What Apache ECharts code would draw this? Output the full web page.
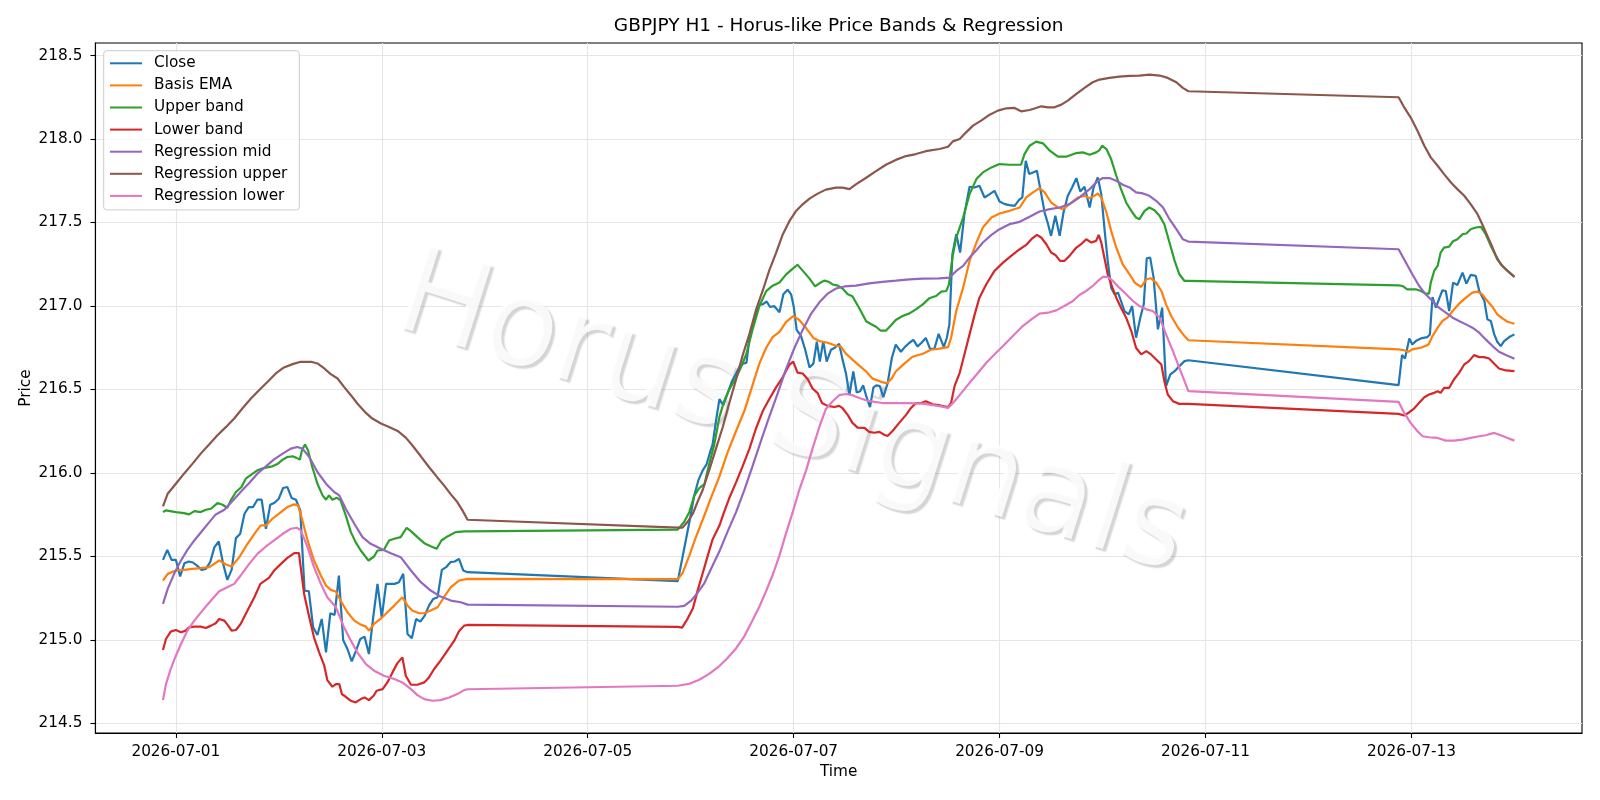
<!DOCTYPE html>
<html><head><meta charset="utf-8">
<script src="https://cdn.jsdelivr.net/npm/echarts@6/dist/echarts.min.js"></script>
<style>html,body{margin:0;padding:0;background:#fff}#chart{width:1600px;height:800px}</style>
</head><body><div id="chart"></div>
<script>
// x values are hours since 2026-07-01 00:00
const xTickHours = [0, 48, 96, 144, 192, 240, 288];
const xTickLabels = ['2026-07-01', '2026-07-03', '2026-07-05', '2026-07-07', '2026-07-09', '2026-07-11', '2026-07-13'];
const yTicks = [214.5, 215.0, 215.5, 216.0, 216.5, 217.0, 217.5, 218.0, 218.5];

const closeData = [
[-3,215.48],[-2,215.54],[-1,215.48],[0,215.48],[1,215.38],[2,215.46],[3,215.47],[4,215.464],[5,215.444],[6,215.42],[7,215.426],[8,215.466],[9,215.556],[10,215.59],[11,215.46],[12,215.36],[13,215.42],[14,215.61],[15,215.636],[16,215.756],[17,215.796],[18,215.796],[19,215.84],[20,215.84],[21,215.666],[22,215.81],[23,215.822],[24,215.846],[25,215.91],[26,215.916],[27,215.85],[28,215.84],[29,215.776],[30,215.296],[31,215.292],[32,215.076],[33,215.03],[34,215.126],[35,214.926],[36,215.16],[37,215.15],[38,215.386],[39,215.0],[40,214.946],[41,214.872],[42,214.936],[43,215.006],[44,215.02],[45,214.916],[46,215.136],[47,215.336],[48,215.136],[49,215.336],[50,215.336],[51,215.336],[52,215.346],[53,215.396],[54,215.036],[55,215.01],[56,215.126],[57,215.11],[58,215.146],[59,215.206],[60,215.246],[61,215.256],[62,215.42],[63,215.436],[64,215.466],[65,215.47],[66,215.486],[67,215.416],[68,215.406],
[117,215.353],[118,215.483],[118.9,215.602],[119.8,215.72],[120.8,215.862],[121.8,215.957],[122.8,216.016],[123.7,216.052],[124.5,216.123],[125.1,216.17],[125.9,216.312],[126.7,216.442],[127.6,216.406],[128.6,216.477],[129.6,216.549],[130.6,216.596],[131.5,216.643],[132.3,216.655],[133,216.66],[133.7,216.809],[134.6,216.892],[135.4,216.975],[136,217.01],[136.8,217.01],[137.7,217.027],[138.5,216.994],[139.5,216.999],[140.7,216.963],[141.6,217.07],[142.6,217.098],[143.4,217.07],[144,216.999],[144.7,216.857],[145.7,216.821],[146.7,216.738],[147.7,216.632],[148.6,216.655],[149.4,216.786],[150.1,216.667],[150.9,216.79],[151.7,216.667],[152.7,216.738],[153.6,216.75],[154.6,216.774],[155.4,216.679],[156.2,216.596],[157,216.466],[157.9,216.608],[158.7,216.482],[159.5,216.49],[160.2,216.525],[161,216.454],[161.8,216.395],[162.6,216.513],[163.3,216.525],[164.1,216.52],[164.9,216.454],[165.9,216.537],[166.9,216.69],[167.8,216.769],[169,216.726],[170,216.757],[171,216.78],[171.9,216.797],[172.9,216.757],[173.8,216.78],[174.8,216.809],[175.8,216.743],[176.8,216.743],[177.8,216.833],
[178.2,216.83],[179,216.754],[179.7,216.81],[180.3,216.89],[181,217.31],[181.9,217.43],[182.8,217.32],[183.8,217.55],[185,217.714],[186.2,217.71],[187.3,217.72],[188.5,217.65],[189.7,217.67],[190.8,217.69],[192,217.626],[193.2,217.61],[194.3,217.604],[195.5,217.6],[196.5,217.634],[197.3,217.65],[198.1,217.87],[198.9,217.79],[199.8,217.8],[200.7,217.81],[201.5,217.7],[202.5,217.56],[203.3,217.49],[204,217.42],[205,217.54],[206,217.42],[206.9,217.56],[207.9,217.66],[208.9,217.71],[209.9,217.766],[210.8,217.686],[211.8,217.714],[213,217.59],[213.9,217.71],[214.9,217.77],[215.7,217.67],[216.5,217.45],[217.2,217.27],[218,217.11],[218.8,217.07],[219.6,217.08],[220.3,217.03],[221.1,216.97],[222.1,216.95],[222.9,217.0],[223.8,216.81],[224.8,216.93],[225.6,217.01],[226.3,217.286],[227.1,217.29],[227.9,217.17],[228.9,216.86],[229.9,216.99],[230.8,216.52],[231.8,216.59],[232.8,216.61],[233.9,216.64],[235.1,216.67],[236,216.675],
[285,216.526],[285.8,216.706],[286.5,216.686],[287.5,216.806],[288.2,216.77],[289.2,216.794],[290.2,216.806],[291.7,216.814],[292.3,216.83],[292.9,217.054],[293.7,216.99],[294.4,217.04],[295.2,217.094],[296,217.09],[296.8,216.97],[297.7,217.14],[298.7,217.126],[299.9,217.2],[300.8,217.134],[301.8,217.186],[303,217.18],[303.8,217.09],[305,217.03],[305.7,216.92],[306.5,216.91],[307.3,216.83],[308,216.786],[308.8,216.76],[309.6,216.79],[310.8,216.814],[312,216.83]
];

const emaData = [
[-3,215.356],[-1.9,215.396],[0,215.416],[1.9,215.42],[3.9,215.426],[5.8,215.43],[7.8,215.436],[10.1,215.476],[11.7,215.452],[13,215.44],[14.8,215.496],[16.7,215.576],[18.6,215.646],[19.8,215.686],[21,215.686],[22.5,215.726],[24.5,215.766],[26,215.796],[27.6,215.812],[28.5,215.806],[29.5,215.716],[30.7,215.596],[32.2,215.476],[33.8,215.386],[35,215.326],[36.1,215.3],[37.3,215.29],[38.4,215.236],[40,215.166],[41.6,215.116],[43.1,215.092],[44.3,215.08],[45,215.056],[46.2,215.096],[47.7,215.126],[49.3,215.166],[50.9,215.206],[52.8,215.256],[54,215.206],[55.1,215.176],[56.7,215.16],[57.9,215.16],[59.4,215.176],[61,215.196],[62.5,215.256],[64.1,215.316],[66,215.356],[68,215.366],
[117,215.365],[118.1,215.4],[119.7,215.507],[121.2,215.614],[122.8,215.72],[124.7,215.85],[126.7,215.98],[128.6,216.123],[130.6,216.253],[132.5,216.371],[134.4,216.525],[136,216.655],[137.6,216.75],[139.1,216.814],[140.7,216.845],[142.2,216.904],[143.9,216.94],[145.3,216.916],[146.9,216.868],[148.6,216.809],[150,216.79],[151.9,216.78],[153.9,216.762],[155,216.757],[156.2,216.714],[157.7,216.679],[159.3,216.643],[160.9,216.608],[162.4,216.565],[164.1,216.549],[165.7,216.537],[166.7,216.561],[167.8,216.608],[169.8,216.655],[171.7,216.696],[174.1,216.714],[176,216.738],[178,216.745],[180,216.754],[180.7,216.81],[181.9,216.97],[183.5,217.11],[185,217.27],[186.6,217.38],[188.1,217.47],[190.1,217.53],[192,217.554],[194.3,217.57],[196.7,217.59],[198.2,217.65],[199.8,217.68],[201.3,217.706],[202.5,217.68],[204,217.62],[205.6,217.59],[206.8,217.58],[208.3,217.61],[210.3,217.65],[211.8,217.66],[213,217.646],[214.1,217.66],[214.9,217.674],[215.7,217.65],[216.9,217.56],[218,217.45],[219.2,217.35],[220.7,217.25],[222.3,217.19],[223.5,217.14],[225,217.114],[226.2,217.16],[227.3,217.166],[228.5,217.14],[229.7,217.09],[230.8,217.01],[232,216.94],[233.6,216.87],[235.1,216.82],[236,216.795],
[285,216.74],[286.3,216.735],[287.3,216.726],[288.2,216.74],[290.2,216.75],[292,216.77],[292.9,216.82],[294.1,216.87],[295.2,216.91],[296.4,216.93],[297.6,216.97],[299.1,217.014],[300.7,217.05],[302.2,217.08],[303.4,217.086],[304.5,217.07],[305.7,217.03],[306.9,216.994],[308,216.95],[309.2,216.926],[310.4,216.906],[312,216.894]
];

const upperBand = [
[-3,215.766],[-2.3,215.776],[0,215.766],[1.9,215.76],[3.1,215.752],[4.3,215.772],[5.8,215.766],[7,215.78],[8.2,215.786],[9.7,215.82],[10.9,215.81],[12,215.792],[12.8,215.836],[14,215.886],[15.3,215.916],[16.3,215.966],[17.9,215.996],[19,216.016],[20,216.026],[21,216.032],[22.5,216.04],[23.8,216.056],[24.9,216.08],[26,216.096],[27.2,216.1],[28,216.092],[28.9,216.08],[29.4,216.136],[30.1,216.17],[30.8,216.136],[31.8,216.036],[33,215.936],[34.2,215.866],[35,215.84],[35.7,215.866],[36.5,215.84],[37.5,215.852],[38.4,215.836],[39.6,215.746],[40.8,215.646],[41.9,215.586],[43.1,215.536],[44.9,215.476],[46.2,215.5],[47,215.536],[48.5,215.54],[49.7,215.596],[50.9,215.606],[52.4,215.616],[53.8,215.672],[54.8,215.652],[56.3,215.616],[57.9,215.58],[59.4,215.562],[60.8,215.546],[61.9,215.596],[63.3,215.62],[65.2,215.646],[67.2,215.65],[68,215.65],
[117,215.661],[118.5,215.708],[119.7,215.767],[120.8,215.862],[122,215.91],[123.2,215.933],[124.3,216.052],[125.5,216.17],[126.7,216.336],[127.8,216.43],[129,216.501],[130.6,216.572],[131.7,216.632],[133,216.714],[134.4,216.857],[136,216.999],[137.6,217.089],[139.1,217.122],[140.7,217.141],[142.2,217.188],[143.8,217.224],[144.9,217.247],[146.1,217.212],[147.7,217.164],[149,217.117],[150,217.136],[151.1,217.152],[152.2,217.145],[153.1,217.129],[154.3,217.122],[155.4,217.105],[156.6,217.07],[157.7,217.058],[159.3,216.987],[160.9,216.909],[162,216.892],[163.2,216.876],[164.3,216.852],[165.5,216.852],[166.7,216.885],[167.8,216.916],[169.4,216.94],[171,216.956],[172.5,216.98],[174.1,217.01],[175.6,217.046],[177.2,217.06],[178.4,217.086],[179.6,217.09],[180.2,217.13],[181,217.29],[181.9,217.41],[183.5,217.53],[185,217.67],[186.6,217.76],[188.1,217.8],[190.1,217.83],[192,217.85],[194.3,217.846],[197,217.846],[197.8,217.91],[199,217.96],[200.5,217.984],[202.1,217.974],[203.7,217.93],[205.6,217.894],[207.5,217.894],[209.9,217.916],[211.4,217.92],[213,217.906],[214.5,217.92],[215.3,217.934],[215.9,217.96],[216.9,217.94],[218,217.88],[219.2,217.78],[220.3,217.7],[221.5,217.62],[222.7,217.57],[223.8,217.53],[224.6,217.52],[225.8,217.57],[226.9,217.59],[228.1,217.574],[229.3,217.54],[230.4,217.49],[231.6,217.38],[232.8,217.27],[233.9,217.19],[235.1,217.15],[236,217.15],
[285,217.124],[285.9,217.12],[287,217.1],[289,217.1],[290.2,217.09],[291.3,217.074],[292.1,217.074],[292.5,217.14],[293.3,217.21],[294.1,217.24],[294.8,217.32],[295.6,217.35],[296.8,217.356],[297.6,217.386],[298.7,217.4],[299.9,217.43],[300.8,217.434],[301.8,217.46],[303,217.47],[304.2,217.474],[305.3,217.43],[306.5,217.36],[307.7,217.3],[308.8,217.25],[310,217.22],[311.1,217.194],[312,217.174]
];

const lowerBand = [
[-3,214.94],[-2.3,215.006],[-1.2,215.05],[0,215.06],[1.2,215.046],[2.3,215.056],[3.1,215.076],[4.3,215.08],[5.8,215.08],[7,215.072],[8.2,215.086],[9.3,215.1],[10.1,215.126],[11.3,215.116],[12.2,215.086],[13,215.056],[14,215.06],[15.1,215.096],[16.7,215.176],[18.3,215.256],[19.7,215.336],[20.6,215.352],[21.7,215.372],[22.9,215.416],[24.5,215.456],[26,215.492],[27.6,215.52],[28.7,215.52],[29.1,215.436],[29.9,215.276],[31.1,215.136],[32.2,215.016],[33.4,214.926],[34.6,214.846],[35.3,214.76],[36.5,214.72],[37.3,214.736],[38.1,214.736],[38.7,214.676],[39.6,214.66],[40.8,214.636],[41.9,214.626],[43.1,214.646],[44,214.656],[45,214.64],[46.1,214.666],[46.8,214.696],[48.2,214.706],[49.3,214.746],[50.5,214.806],[51.6,214.86],[52.8,214.896],[53.6,214.786],[54.8,214.732],[56.3,214.732],[57.9,214.746],[59,214.776],[60.2,214.826],[61.7,214.876],[63.3,214.936],[64.9,214.996],[66,215.052],[67.2,215.086],[68,215.09],
[117,215.078],[118,215.074],[119.3,215.128],[120.5,215.188],[121.6,215.294],[122.8,215.4],[124,215.507],[125.1,215.602],[126.7,215.685],[127.8,215.767],[129,215.85],[130.6,215.945],[132.1,216.04],[133.7,216.146],[135.2,216.265],[136.8,216.371],[138.3,216.442],[139.9,216.513],[141.4,216.572],[143,216.648],[143.9,216.667],[144.9,216.601],[146.1,216.596],[147.3,216.561],[148.4,216.506],[149.6,216.478],[150.6,216.419],[151.9,216.402],[153.5,216.395],[154.6,216.402],[155.4,216.388],[156.6,216.348],[157.7,216.3],[158.9,216.272],[160.5,216.27],[161.6,216.246],[162.8,216.241],[164,216.246],[165.1,216.229],[165.9,216.222],[167.1,216.253],[168.6,216.3],[170.2,216.348],[171.3,216.388],[172.5,216.419],[173.7,216.419],[174.8,216.43],[176.4,216.411],[177.9,216.407],[178.8,216.4],[180,216.394],[180.7,216.42],[181.5,216.52],[182.7,216.6],[183.8,216.71],[185,216.83],[186.2,216.95],[187.3,217.05],[188.9,217.13],[190.8,217.21],[192.8,217.26],[194.7,217.3],[196.7,217.34],[198.2,217.366],[199.4,217.4],[200.7,217.426],[201.7,217.41],[202.9,217.37],[204,217.32],[205,217.306],[206.1,217.27],[207.1,217.27],[208.3,217.3],[209.9,217.35],[211,217.37],[212.2,217.4],[213.4,217.38],[214.5,217.39],[215.1,217.426],[215.7,217.38],[216.5,217.28],[217.2,217.19],[218.3,217.11],[219.2,217.05],[220.3,216.99],[221.5,216.93],[222.7,216.85],[223.8,216.75],[225,216.71],[226.2,216.73],[227.3,216.71],[228.5,216.68],[229.7,216.65],[230.4,216.55],[231.2,216.47],[232.4,216.43],[233.9,216.414],[236,216.414],
[285,216.354],[286.3,216.344],[287.5,216.364],[288.6,216.386],[289.8,216.42],[291,216.454],[292.1,216.47],[293.3,216.48],[294.1,216.49],[294.8,216.48],[295.6,216.51],[296.8,216.51],[297.9,216.56],[299.1,216.6],[300.3,216.65],[301.4,216.67],[302.6,216.706],[303.8,216.694],[304.9,216.694],[306.1,216.686],[307.3,216.654],[308.4,216.626],[310,216.614],[312,216.61]
];

const regMid = [
[-3,215.216],[-1.9,215.306],[-0.4,215.396],[1.2,215.476],[2.7,215.54],[4.3,215.596],[6.2,215.656],[7.8,215.706],[9.3,215.752],[11.3,215.78],[13.2,215.832],[15.1,215.886],[17.1,215.94],[19,215.996],[21,216.04],[22.9,216.082],[24.9,216.116],[26.8,216.146],[28.3,216.156],[29.5,216.146],[31.1,216.096],[33,216.006],[35,215.936],[36.9,215.886],[38.1,215.866],[39.6,215.786],[41.6,215.696],[43.5,215.616],[45.4,215.576],[47.8,215.546],[50.1,215.52],[52.4,215.496],[54.8,215.416],[57.1,215.346],[59.4,215.296],[61.7,215.26],[64.1,215.236],[66.4,215.226],[68,215.212],
[117,215.199],[118.5,215.204],[120.1,215.235],[121.6,215.282],[123.2,215.341],[124.7,215.424],[126.7,215.531],[128.6,215.649],[130.6,215.767],[132.5,215.898],[134.4,216.04],[136.4,216.194],[138.3,216.336],[140.3,216.478],[142.2,216.62],[144.2,216.75],[146.1,216.857],[148,216.951],[150,217.022],[151.9,217.074],[153.9,217.105],[155.8,217.117],[158.5,217.122],[161.6,217.136],[164.7,217.145],[167.8,217.152],[171,217.16],[174.1,217.164],[177.9,217.166],[180.3,217.17],[181.9,217.21],[183.5,217.24],[185,217.29],[186.6,217.334],[188.1,217.38],[190.1,217.426],[192,217.46],[194.3,217.49],[196.7,217.504],[199,217.534],[201.3,217.566],[203.7,217.58],[206,217.59],[208.3,217.61],[210.6,217.65],[213,217.7],[214.9,217.75],[216.1,217.766],[217.6,217.766],[219.2,217.75],[220.7,217.726],[222.3,217.71],[223.8,217.68],[225.4,217.674],[226.9,217.66],[228.5,217.63],[230.1,217.59],[231.6,217.52],[233.2,217.46],[234.7,217.4],[236,217.386],
[285,217.34],[286.7,217.26],[288.2,217.19],[289.8,217.12],[291.3,217.07],[292.9,217.03],[294.4,216.99],[296,216.96],[297.6,216.93],[299.1,216.91],[300.7,216.89],[302.2,216.87],[303.8,216.84],[305.3,216.8],[306.9,216.76],[308.4,216.726],[310,216.706],[311.5,216.69],[312,216.684]
];

const regUpper = [
[-3,215.8],[-1.9,215.876],[0,215.936],[1.9,215.996],[3.9,216.056],[5.8,216.116],[7.8,216.172],[9.7,216.226],[11.7,216.276],[13.6,216.326],[15.5,216.386],[17.5,216.446],[19.4,216.496],[21.4,216.546],[23.3,216.596],[25.2,216.632],[27.2,216.652],[29.1,216.666],[31.5,216.666],[33,216.656],[34.6,216.626],[36.1,216.592],[37.7,216.566],[39.2,216.516],[40.8,216.466],[42.3,216.416],[44.3,216.36],[45.8,216.326],[47.8,216.296],[49.7,216.276],[51.7,216.252],[53.6,216.212],[55.1,216.166],[57.1,216.1],[59,216.036],[61,215.972],[62.5,215.926],[64.1,215.872],[65.6,215.826],[66.8,215.776],[68,215.72],
[117,215.673],[118.1,215.673],[119.3,215.708],[120.5,215.756],[121.6,215.827],[122.8,215.898],[124.3,216.016],[125.9,216.146],[127.5,216.277],[129,216.419],[130.6,216.561],[132.1,216.703],[133.7,216.833],[135.2,216.975],[136.8,217.093],[138.3,217.212],[139.9,217.318],[141.4,217.425],[143,217.508],[144.5,217.567],[146.1,217.609],[147.7,217.643],[149.6,217.673],[151.5,217.697],[153.9,217.709],[155.4,217.709],[157,217.7],[158.5,217.728],[160.9,217.768],[163.2,217.808],[165.5,217.846],[167.8,217.875],[170.2,217.898],[172.5,217.91],[174.8,217.927],[178,217.94],[180,217.954],[181.1,217.986],[182.7,218.0],[184.2,218.04],[185.8,218.08],[187.7,218.11],[189.7,218.146],[191.6,218.17],[193.6,218.184],[195.5,218.186],[197,218.166],[199,218.174],[200.5,218.186],[201.7,218.196],[203.3,218.19],[204.8,218.19],[206.4,218.206],[207.9,218.23],[209.9,218.27],[211.8,218.306],[213.7,218.34],[215.3,218.356],[217.6,218.366],[219.9,218.374],[222.3,218.378],[224.6,218.38],[226.9,218.386],[229.3,218.38],[231.2,218.366],[233.2,218.34],[234.7,218.306],[236,218.286],
[285,218.25],[286.3,218.19],[287.8,218.13],[289.4,218.05],[291,217.96],[292.5,217.89],[294.1,217.84],[295.6,217.79],[297.2,217.74],[298.7,217.7],[300.3,217.66],[301.8,217.61],[303.4,217.55],[304.5,217.49],[305.7,217.42],[306.9,217.35],[308,217.28],[309.2,217.24],[310.4,217.21],[311.5,217.186],[312,217.174]
];

const regLower = [
[-3,214.64],[-2.3,214.736],[-1.2,214.826],[0,214.906],[1.2,214.976],[2.7,215.056],[4.3,215.116],[6.2,215.176],[8.2,215.236],[10.1,215.292],[12,215.316],[13.6,215.336],[15.1,215.386],[17.1,215.456],[19,215.516],[21,215.56],[22.9,215.596],[24.9,215.636],[26.8,215.666],[28.3,215.672],[29.1,215.656],[30.7,215.556],[32.2,215.436],[33.8,215.336],[35.3,215.256],[37.3,215.196],[39.2,215.076],[40.8,214.996],[42.3,214.926],[44.3,214.856],[46.2,214.816],[48.5,214.786],[50.9,214.766],[52.8,214.746],[54.8,214.706],[56.3,214.67],[57.9,214.646],[59.8,214.636],[61.7,214.64],[63.7,214.656],[65.6,214.676],[67.2,214.7],[68,214.705],
[117,214.726],[119.7,214.738],[122,214.762],[124.3,214.797],[126.7,214.844],[128.6,214.892],[130.6,214.951],[132.5,215.022],[134.4,215.117],[136,215.199],[137.6,215.294],[139.1,215.389],[140.7,215.507],[142.2,215.637],[143.8,215.767],[145.3,215.898],[146.9,216.016],[148.4,216.146],[150,216.277],[151.5,216.383],[153.1,216.43],[154.6,216.466],[156.2,216.473],[157.7,216.466],[159.3,216.449],[161.6,216.43],[164.7,216.419],[167.8,216.419],[171,216.419],[174.1,216.415],[178,216.4],[180,216.39],[181.5,216.43],[183.1,216.48],[185,216.54],[187,216.6],[188.9,216.66],[190.8,216.71],[192.8,216.76],[195.1,216.82],[197.4,216.88],[199.4,216.92],[201.3,216.954],[203.3,216.96],[205.2,216.974],[207.1,217.0],[209.1,217.03],[210.6,217.066],[212.2,217.09],[213.7,217.12],[214.9,217.15],[216.1,217.174],[217.2,217.174],[218.4,217.15],[219.9,217.11],[221.5,217.07],[223.1,217.03],[224.6,217.0],[226.2,216.98],[227.7,216.97],[229.3,216.93],[230.8,216.83],[232.4,216.73],[233.9,216.63],[235.1,216.55],[236,216.49],
[285,216.426],[286.3,216.36],[287.8,216.3],[289.4,216.25],[290.6,216.22],[292.1,216.214],[294.1,216.21],[296,216.194],[297.9,216.194],[299.9,216.2],[301.8,216.21],[303.8,216.22],[305.3,216.226],[307.3,216.24],[308.8,216.226],[310.4,216.21],[312,216.194]
];

const seriesNames = ['Close', 'Basis EMA', 'Upper band', 'Lower band', 'Regression mid', 'Regression upper', 'Regression lower'];
const seriesColors = ['#1f77b4', '#ff7f0e', '#2ca02c', '#d62728', '#9467bd', '#8c564b', '#e377c2'];
const seriesData = [closeData, emaData, upperBand, lowerBand, regMid, regUpper, regLower];

const FONT = 'DejaVu Sans';
const FS = 15.3;
const chart = echarts.init(document.getElementById('chart'), null, {renderer: 'canvas', width: 1600, height: 800});

const series = seriesNames.map((n, i) => ({
  name: n, type: 'line', data: seriesData[i], showSymbol: false, symbol: 'none',
  lineStyle: {width: 2.2, color: seriesColors[i]}, itemStyle: {color: seriesColors[i]},
  emphasis: {disabled: true}, animation: false, z: 3
}));

chart.setOption({
  animation: false,
  backgroundColor: '#ffffff',
  title: {
    text: 'GBPJPY H1 - Horus-like Price Bands & Regression',
    left: 838.7, top: 17, textAlign: 'center', padding: 0,
    textStyle: {fontFamily: FONT, fontSize: 18.5, fontWeight: 'normal', color: '#000'}
  },
  grid: {left: 95.4, right: 18, top: 43, bottom: 67, show: true, borderColor: '#000', borderWidth: 1.1, backgroundColor: 'transparent', containLabel: false},
  legend: {
    orient: 'vertical', left: 103.7, top: 50.7, padding: [4.6, 12, 6, 6.3], itemGap: 6.1,
    itemWidth: 32, itemHeight: 2, icon: 'rect', selectedMode: false,
    backgroundColor: 'rgba(255,255,255,0.8)', borderColor: '#cccccc', borderWidth: 1, borderRadius: 3,
    textStyle: {fontFamily: FONT, fontSize: FS, color: '#000', lineHeight: 16, padding: [0, 0, 0, 7]},
    data: seriesNames, z: 10
  },
  xAxis: {
    type: 'value', min: -18.75, max: 327.75,
    name: 'Time', nameLocation: 'middle', nameGap: 32, nameMoveOverlap: false,
    nameTextStyle: {fontFamily: FONT, fontSize: FS, color: '#000'},
    axisLine: {show: true, onZero: false, lineStyle: {color: '#000', width: 1.1}},
    axisTick: {show: true, customValues: xTickHours, length: 5, lineStyle: {color: '#000', width: 1.1}},
    axisLabel: {customValues: xTickHours, formatter: v => xTickLabels[xTickHours.indexOf(v)] || '', margin: 11.5, fontFamily: FONT, fontSize: FS, color: '#000'},
    splitLine: {show: true, lineStyle: {color: '#e6e6e6', width: 1.1}}
  },
  yAxis: {
    type: 'value', min: 214.443, max: 218.575,
    name: 'Price', nameLocation: 'middle', nameGap: 62, nameRotate: 90, nameMoveOverlap: false,
    nameTextStyle: {fontFamily: FONT, fontSize: FS, color: '#000'},
    axisLine: {show: true, onZero: false, lineStyle: {color: '#000', width: 1.1}},
    axisTick: {show: true, customValues: yTicks, length: 5, lineStyle: {color: '#000', width: 1.1}},
    axisLabel: {customValues: yTicks, formatter: v => v.toFixed(1), margin: 13, fontFamily: FONT, fontSize: FS, color: '#000'},
    splitLine: {show: true, lineStyle: {color: '#e6e6e6', width: 1.1}}
  },
  graphic: [{
    type: 'text', x: 791, y: 418, rotation: -17.5 * Math.PI / 180, z: 1, silent: true,
    style: {
      text: 'Horus Signals', fontFamily: FONT, fontSize: 120,
      fill: 'rgba(255,255,255,0.85)', align: 'center', verticalAlign: 'middle',
      textAlign: 'center', textVerticalAlign: 'middle',
      textShadowColor: 'rgba(0,0,0,0.2)', textShadowOffsetX: 3, textShadowOffsetY: 3, textShadowBlur: 1.5
    }
  }],
  series: series
});
</script>
</body></html>
